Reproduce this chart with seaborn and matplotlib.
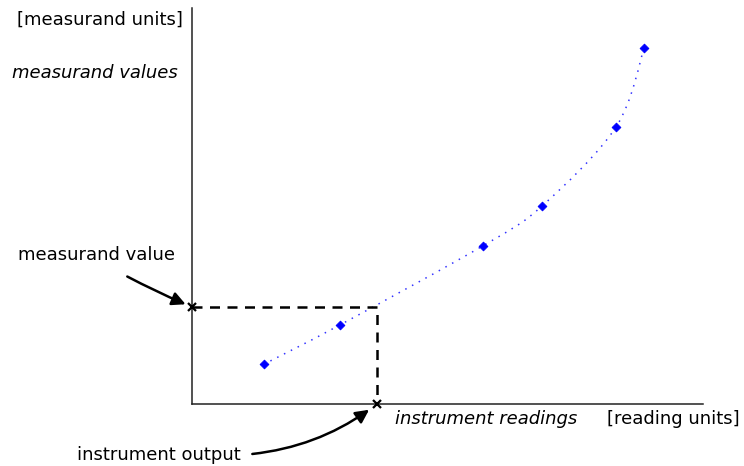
import numpy as np
import pandas as pd
import matplotlib
matplotlib.use("Agg")
import matplotlib.pyplot as plt
from matplotlib.path import Path
from matplotlib.patches import PathPatch
import seaborn as sns

# calibration points (instrument reading -> measurand value), arbitrary units
readings = [1.4, 2.9, 5.7, 6.85, 8.3, 8.85]
measurands = [1.0, 2.0, 4.0, 5.0, 7.0, 9.0]

# the one reading being converted
instrument_output = 3.62
measurand_value = 2.45

W, H = 744, 466


def fx(px):
    return px / W


def fy(py):
    return 1 - py / H


sns.set_style("white")
plt.rcParams['font.family'] = ['DejaVu Sans']
plt.rcParams['text.color'] = 'black'

fig = plt.figure(figsize=(W / 100, H / 100), dpi=100)
ax = fig.add_axes([fx(192), fy(404), (703 - 192) / W, (404 - 8) / H])
ax.set_xlim(0, 10)
ax.set_ylim(0, 10)
ax.set_xticks([])
ax.set_yticks([])
for s in ['top', 'right']:
    ax.spines[s].set_visible(False)
for s in ['left', 'bottom']:
    ax.spines[s].set_color('#222222')
    ax.spines[s].set_linewidth(1.1)

df = pd.DataFrame({'reading': readings, 'measurand': measurands})

# smooth dotted curve through the calibration points (Catmull-Rom as bezier)
pts = df[['reading', 'measurand']].to_numpy()
ext = np.vstack([pts[0], pts, pts[-1]])
verts = [tuple(pts[0])]
codes = [Path.MOVETO]
for i in range(1, len(ext) - 2):
    p0, p1, p2, p3 = ext[i - 1], ext[i], ext[i + 1], ext[i + 2]
    c1 = p1 + (p2 - p0) / 6
    c2 = p2 - (p3 - p1) / 6
    verts += [tuple(c1), tuple(c2), tuple(p2)]
    codes += [Path.CURVE4] * 3
ax.add_patch(PathPatch(Path(verts, codes), fill=False, edgecolor='blue',
                       linewidth=1.1, linestyle=(0, (1, 4)), alpha=0.8))

sns.scatterplot(data=df, x='reading', y='measurand', marker='D', s=20,
                color='blue', edgecolor='blue', linewidth=0.6, ax=ax, zorder=3)
ax.set_xlabel('')
ax.set_ylabel('')

# dashed projection lines
ax.plot([0, instrument_output, instrument_output],
        [measurand_value, measurand_value, 0],
        color='black', linestyle=(0, (4, 3)), linewidth=1.8, zorder=2)
ax.plot([0, instrument_output], [measurand_value, 0], linestyle='none',
        marker='x', color='black', markersize=6, markeredgewidth=1.6,
        clip_on=False, zorder=4)

# labels
fs = 13
fig.text(fx(183), fy(20), '[measurand units]', ha='right', va='center', fontsize=fs)
fig.text(fx(178), fy(73), 'measurand values', ha='right', va='center',
         fontsize=fs, style='italic')
fig.text(fx(395), fy(419), 'instrument readings', ha='left', va='center',
         fontsize=fs, style='italic')
fig.text(fx(740), fy(419), '[reading units]', ha='right', va='center', fontsize=fs)

ax.annotate('measurand value', xy=(0, measurand_value), xycoords='data',
            xytext=(fx(18), fy(255)), textcoords='figure fraction',
            ha='left', va='center', fontsize=fs, annotation_clip=False,
            arrowprops=dict(arrowstyle='-|>', color='black', lw=1.8,
                            mutation_scale=20, shrinkA=14, shrinkB=5,
                            relpos=(0.55, 0.0),
                            connectionstyle='arc3,rad=0.03'))
ax.annotate('instrument output', xy=(instrument_output, 0), xycoords='data',
            xytext=(fx(77), fy(455)), textcoords='figure fraction',
            ha='left', va='center', fontsize=fs, annotation_clip=False,
            arrowprops=dict(arrowstyle='-|>', color='black', lw=1.8,
                            mutation_scale=20, shrinkA=6, shrinkB=7,
                            relpos=(1.0, 0.5),
                            connectionstyle='arc3,rad=0.15'))

fig.savefig('out.png', dpi=100)
